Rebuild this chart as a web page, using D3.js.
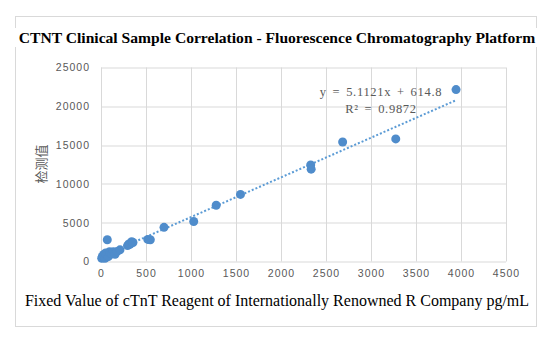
<!DOCTYPE html>
<html>
<head>
<meta charset="utf-8">
<script src="https://cdn.jsdelivr.net/npm/d3@7"></script>
<style>
  body { margin: 0; background: #fff; }
  svg { display: block; }
</style>
</head>
<body>
<div id="chart"></div>
<script>
// reference value (pg/mL) vs. measured value for each sample
let refValues = [8, 15, 22, 30, 38, 44, 52, 63, 70, 81, 95, 100, 118, 137, 156, 180, 211,
    295, 310, 322, 341, 355, 520, 548, 700, 1030, 1280, 1550, 2330, 2335, 2685, 3275, 3945];
let measured = [420, 650, 560, 900, 760, 410, 1100, 840, 2800, 620, 1250, 1060, 980, 1260, 930, 1300, 1500,
    2050, 2250, 2200, 2550, 2450, 2850, 2800, 4400, 5150, 7250, 8650, 12450, 11900, 15400, 15800, 22150];

let xTicks = [0, 500, 1000, 1500, 2000, 2500, 3000, 3500, 4000, 4500];
let yTicks = [0, 5000, 10000, 15000, 20000, 25000];

// linear trendline
let slope = 5.1121;
let intercept = 614.8;
let rSquared = 0.9872;

let svgWidth = 554;
let svgHeight = 342;

let margin = { top: 67.5, right: 48, bottom: 80.5, left: 101 };
let width = svgWidth - margin.left - margin.right;
let height = svgHeight - margin.top - margin.bottom;

let svg = d3.select("#chart")
    .append("svg")
    .attr("width", svgWidth)
    .attr("height", svgHeight);

svg.append("rect")
    .attr("width", svgWidth)
    .attr("height", svgHeight)
    .attr("fill", "#fff");

// outer frame
svg.append("rect")
    .attr("x", 15.5)
    .attr("y", 16.5)
    .attr("width", 521)
    .attr("height", 310)
    .attr("fill", "none")
    .attr("stroke", "#d9d9d9");

let chartGroup = svg.append("g")
    .attr("transform", `translate(${margin.left}, ${margin.top})`);

let xScale = d3.scaleLinear().domain([0, 4500]).range([0, width]);
let yScale = d3.scaleLinear().domain([0, 25000]).range([height, 0]);

// gridlines
chartGroup.append("g")
    .selectAll("line")
    .data(xTicks)
    .enter()
    .append("line")
    .attr("x1", d => Math.round(xScale(d)) + 0.5)
    .attr("x2", d => Math.round(xScale(d)) + 0.5)
    .attr("y1", 0)
    .attr("y2", height)
    .attr("stroke", "#d9d9d9");

chartGroup.append("g")
    .selectAll("line")
    .data(yTicks)
    .enter()
    .append("line")
    .attr("x1", 0)
    .attr("x2", width)
    .attr("y1", d => Math.round(yScale(d)) + 0.5)
    .attr("y2", d => Math.round(yScale(d)) + 0.5)
    .attr("stroke", "#d9d9d9");

// axes (labels only, lines come from the grid)
let bottomAxis = d3.axisBottom(xScale).tickValues(xTicks).tickFormat(d3.format("d")).tickSize(0).tickPadding(8);
let leftAxis = d3.axisLeft(yScale).tickValues(yTicks).tickFormat(d3.format("d")).tickSize(0).tickPadding(11);

let xAxis = chartGroup.append("g")
    .attr("transform", `translate(0, ${height})`)
    .call(bottomAxis);
let yAxis = chartGroup.append("g").call(leftAxis);

[xAxis, yAxis].forEach(ax => {
    ax.select(".domain").remove();
    ax.selectAll("text")
        .attr("fill", "#595959")
        .style("font-family", "'Liberation Sans', Arial, sans-serif")
        .style("font-size", "10.5px")
        .style("letter-spacing", "1px");
});

// trendline
let xMin = d3.min(refValues);
let xMax = d3.max(refValues);
chartGroup.append("line")
    .attr("x1", xScale(xMin))
    .attr("y1", yScale(slope * xMin + intercept))
    .attr("x2", xScale(xMax))
    .attr("y2", yScale(slope * xMax + intercept))
    .attr("stroke", "#5b9bd5")
    .attr("stroke-width", 2)
    .attr("stroke-dasharray", "2,2");

// points
chartGroup.selectAll("circle")
    .data(refValues)
    .enter()
    .append("circle")
    .attr("cx", (d, i) => xScale(d))
    .attr("cy", (d, i) => yScale(measured[i]))
    .attr("r", 4.5)
    .attr("fill", "#4f8ccb");

// equation label
let eqGroup = chartGroup.append("g")
    .attr("fill", "#595959")
    .style("font-family", "'Liberation Serif', 'Times New Roman', serif")
    .style("font-size", "12.5px")
    .attr("text-anchor", "middle");
eqGroup.append("text")
    .attr("x", 381 - margin.left)
    .attr("y", 96 - margin.top)
    .style("letter-spacing", "0.7px")
    .style("word-spacing", "2px")
    .text(`y = ${slope}x + ${intercept}`);
eqGroup.append("text")
    .attr("x", 381 - margin.left)
    .attr("y", 113 - margin.top)
    .style("letter-spacing", "0.7px")
    .style("word-spacing", "2px")
    .text(`R² = ${rSquared}`);

// y axis title
svg.append("text")
    .attr("transform", `translate(46, 164) rotate(-90)`)
    .attr("text-anchor", "middle")
    .attr("fill", "#595959")
    .style("font-family", "'Noto Sans CJK SC', sans-serif")
    .style("font-size", "13px")
    .text("检测值");

// x axis title
svg.append("text")
    .attr("x", 277)
    .attr("y", 306)
    .attr("text-anchor", "middle")
    .attr("fill", "#000")
    .style("font-family", "'Liberation Serif', 'Times New Roman', serif")
    .style("font-size", "16px")
    .text("Fixed Value of cTnT Reagent of Internationally Renowned R Company pg/mL");

// chart title on a white band over the frame
svg.append("rect")
    .attr("x", 12)
    .attr("y", 28)
    .attr("width", 530)
    .attr("height", 19)
    .attr("fill", "#fff");

svg.append("text")
    .attr("x", 277)
    .attr("y", 43)
    .attr("text-anchor", "middle")
    .attr("fill", "#000")
    .style("font-family", "'Liberation Serif', 'Times New Roman', serif")
    .style("font-size", "15.6px")
    .style("font-weight", "bold")
    .text("CTNT Clinical Sample Correlation - Fluorescence Chromatography Platform");
</script>
</body>
</html>
